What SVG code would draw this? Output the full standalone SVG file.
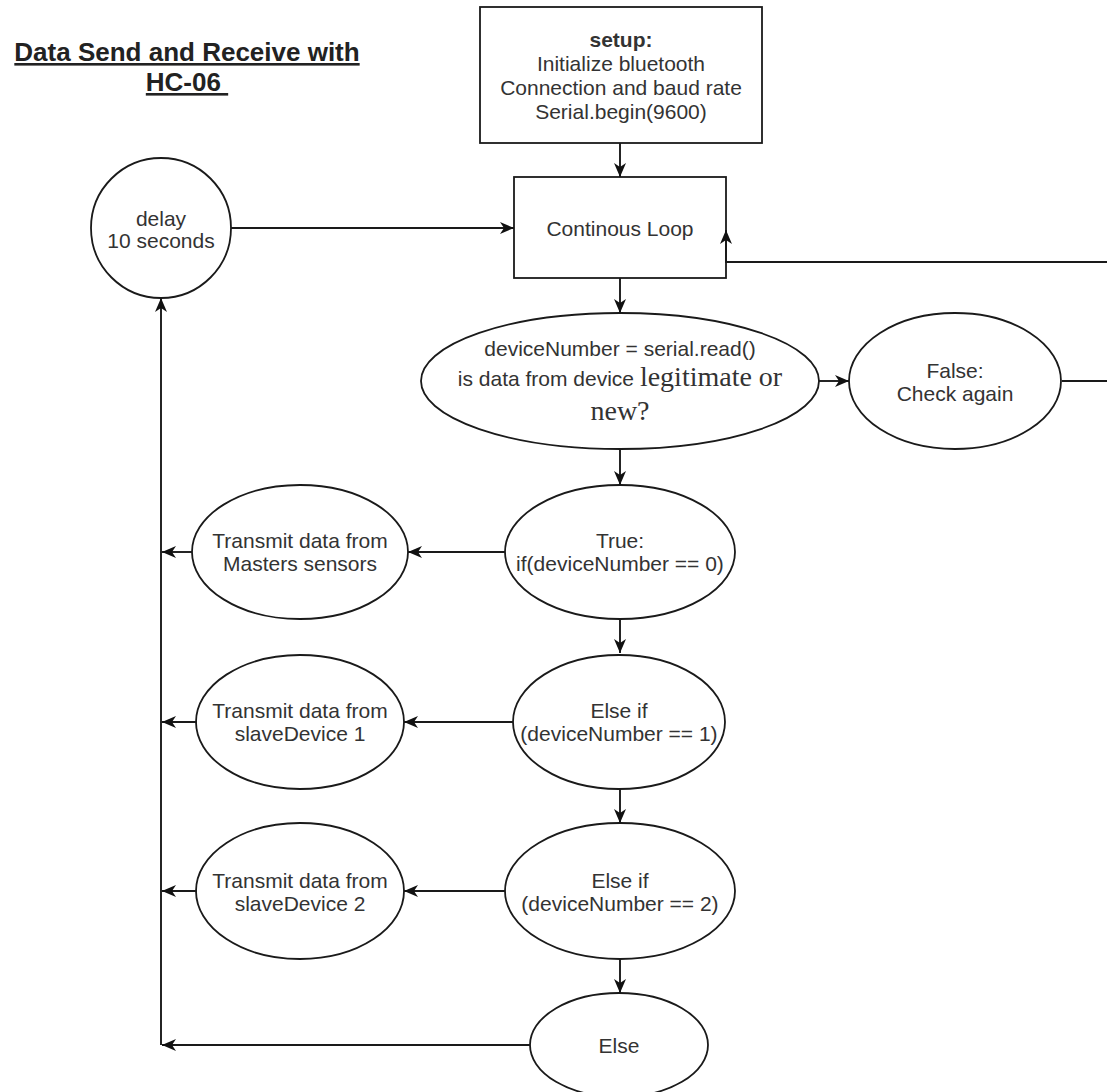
<svg xmlns="http://www.w3.org/2000/svg" width="1107" height="1092" viewBox="0 0 1107 1092">
<defs>
<style>
.shape{fill:#fff;stroke:#1a1a1a;stroke-width:1.8}
.edge{fill:none;stroke:#1a1a1a;stroke-width:1.9;marker-end:url(#arr)}
.t{font-family:"Liberation Sans",Arial,sans-serif;font-size:21px;fill:#333;text-anchor:middle}
.b{font-weight:bold}
.serif{font-family:"Liberation Serif","Times New Roman",serif;font-size:28px}
.title{font-family:"Liberation Sans",Arial,sans-serif;font-size:26px;font-weight:bold;fill:#222;text-anchor:middle;text-decoration:underline}
</style>
<marker id="arr" markerUnits="userSpaceOnUse" markerWidth="16" markerHeight="15" refX="14" refY="7" orient="auto">
<path d="M0,1 L14,7 L0,13 L4,7 Z" fill="#111"/>
</marker>
</defs>
<rect width="1107" height="1092" fill="#fff"/>

<g id="title">
<text class="title" x="187" y="61">Data Send and Receive with</text>
<text class="title" x="187" y="91" xml:space="preserve">HC-06 </text>
</g>

<g id="setup">
<rect class="shape" x="480" y="7" width="282" height="136"/>
<text class="t b" x="621" y="47">setup:</text>
<text class="t" x="621" y="71">Initialize bluetooth</text>
<text class="t" x="621" y="95">Connection and baud rate</text>
<text class="t" x="621" y="119">Serial.begin(9600)</text>
</g>

<g id="loop">
<rect class="shape" x="514" y="177" width="212" height="101"/>
<text class="t" x="620" y="236">Continous Loop</text>
</g>

<g id="delay">
<circle class="shape" cx="161" cy="228" r="70"/>
<text class="t" x="161" y="226">delay</text>
<text class="t" x="161" y="248">10 seconds</text>
</g>

<g id="read">
<ellipse class="shape" cx="620" cy="381" rx="199" ry="68"/>
<text class="t" x="620" y="356">deviceNumber = serial.read()</text>
<text class="t" x="620" y="386" xml:space="preserve">is data from device <tspan class="serif">legitimate or</tspan></text>
<text class="t serif" x="620" y="420">new?</text>
</g>

<g id="false">
<ellipse class="shape" cx="955" cy="381" rx="106" ry="68"/>
<text class="t" x="955" y="378">False:</text>
<text class="t" x="955" y="401">Check again</text>
</g>

<g id="true">
<ellipse class="shape" cx="620" cy="552" rx="115" ry="67"/>
<text class="t" x="620" y="548">True:</text>
<text class="t" x="620" y="571">if(deviceNumber == 0)</text>
</g>

<g id="masters">
<ellipse class="shape" cx="300" cy="552" rx="108" ry="67"/>
<text class="t" x="300" y="548">Transmit data from</text>
<text class="t" x="300" y="571">Masters sensors</text>
</g>

<g id="elseif1">
<ellipse class="shape" cx="619" cy="722" rx="106" ry="67"/>
<text class="t" x="619" y="718">Else if</text>
<text class="t" x="619" y="741">(deviceNumber == 1)</text>
</g>

<g id="slave1">
<ellipse class="shape" cx="300" cy="722" rx="104" ry="67"/>
<text class="t" x="300" y="718">Transmit data from</text>
<text class="t" x="300" y="741">slaveDevice 1</text>
</g>

<g id="elseif2">
<ellipse class="shape" cx="620" cy="891" rx="115" ry="68"/>
<text class="t" x="620" y="888">Else if</text>
<text class="t" x="620" y="911">(deviceNumber == 2)</text>
</g>

<g id="slave2">
<ellipse class="shape" cx="300" cy="891" rx="104" ry="68"/>
<text class="t" x="300" y="888">Transmit data from</text>
<text class="t" x="300" y="911">slaveDevice 2</text>
</g>

<g id="else">
<ellipse class="shape" cx="619" cy="1045" rx="89" ry="52"/>
<text class="t" x="619" y="1053">Else</text>
</g>

<g id="connectors">
<path class="edge" d="M620,143 V177"/>
<path class="edge" d="M231,228 H514"/>
<path class="edge" d="M620,278 V313"/>
<path class="edge" d="M819,381 H849"/>
<path class="edge" d="M1062,381 H1120 V262 H726 V230"/>
<path class="edge" d="M620,449 V485"/>
<path class="edge" d="M505,552 H408"/>
<path class="edge" d="M192,552 H162"/>
<path class="edge" d="M620,619 V653"/>
<path class="edge" d="M513,722 H404"/>
<path class="edge" d="M197,722 H162"/>
<path class="edge" d="M620,789 V823"/>
<path class="edge" d="M505,891 H404"/>
<path class="edge" d="M197,891 H162"/>
<path class="edge" d="M620,960 V993"/>
<path class="edge" d="M530,1045 H162"/>
<path class="edge" d="M161,1045 V298"/>
</g>
</svg>
